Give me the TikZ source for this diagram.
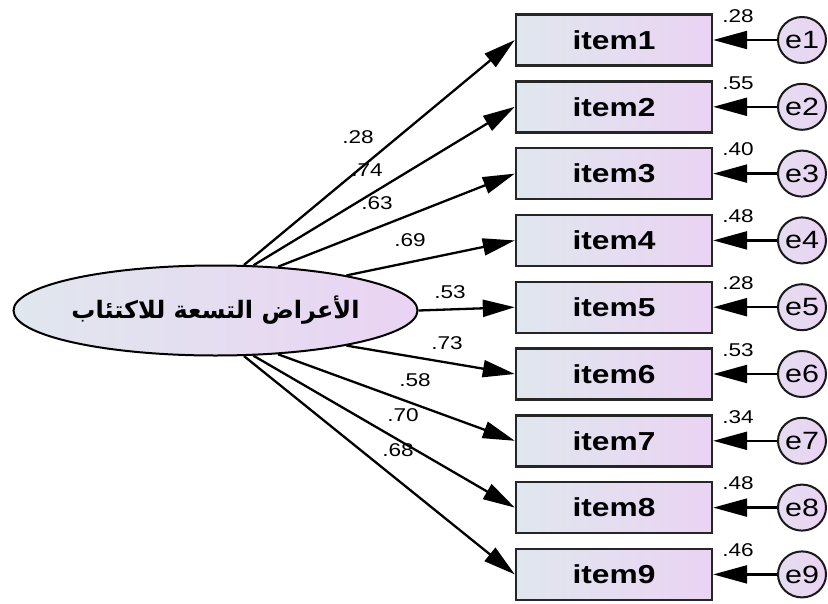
\documentclass[tikz,border=0pt]{standalone}
\usepackage{fontspec}
\setmainfont{Liberation Sans}
\newfontfamily\arabicfont[Script=Arabic]{DejaVu Sans}
\TeXXeTstate=1
\usetikzlibrary{arrows.meta,shapes.geometric}
\definecolor{gl}{RGB}{224,231,238}
\definecolor{gr}{RGB}{234,211,243}
\newcommand{\sx}[1]{\scalebox{1.22}[1]{#1}}
\begin{document}
\begin{tikzpicture}[x=1pt,y=-1pt,
  obs/.style={draw=black!85, line width=2.4pt, left color=gl, right color=gr, minimum width=196pt, minimum height=51pt, inner sep=0, font=\fontsize{26}{26}\selectfont\bfseries},
  err/.style={ellipse, draw=black!90, line width=2pt, left color=gl!50!gr, right color=gr, minimum width=48pt, minimum height=46pt, inner sep=0, font=\fontsize{25}{25}\selectfont},
  lat/.style={ellipse, draw, line width=2pt, left color=gl, right color=gr, minimum width=404pt, minimum height=90pt, inner sep=0},
  path/.style={line width=2.3pt, -{Triangle[length=32pt,width=17pt]}},
  res/.style={line width=2.3pt, -{Triangle[length=34pt,width=18pt]}},
  coef/.style={inner sep=0, font=\fontsize{18.5}{18.5}\selectfont},
]
\useasboundingbox (0,0) rectangle (828,603);
\node[lat] (F) at (215.5,310.5) {\makebox[0pt]{\arabicfont\fontsize{24}{24}\selectfont\bfseries\beginR الأعراض التسعة للاكتئاب\endR}};
\foreach \k/\r in {1/.28,2/.55,3/.40,4/.48,5/.28,6/.53,7/.34,8/.48,9/.46}{
  \pgfmathsetmacro{\yy}{40+66.8*(\k-1)}
  \node[obs] (i\k) at (614,\yy) {\sx{item\k}};
  \node[err] (e\k) at (802,\yy) {\sx{e\k}};
  \draw[res] (e\k) -- (i\k.east);
  \node[coef] (r\k) at (738,\yy-24) {\sx{\r}};
}
\draw[path] (F.58.9) -- (i1.west);
\draw[path] (F.50.2) -- (i2.west);
\draw[path] (F.35.3) -- (i3.west);
\draw[path] (F.15.6) -- (i4.west);
\draw[path] (F.east) -- (i5.west);
\draw[path] (F.-15.6) -- (i6.west);
\draw[path] (F.-35.3) -- (i7.west);
\draw[path] (F.-50.2) -- (i8.west);
\draw[path] (F.-58.9) -- (i9.west);
\node[coef] (c1) at (358,137) {\sx{.28}};
\node[coef] (c2) at (367,170) {\sx{.74}};
\node[coef] (c3) at (377,203) {\sx{.63}};
\node[coef] (c4) at (410,240) {\sx{.69}};
\node[coef] (c5) at (450,292) {\sx{.53}};
\node[coef] (c6) at (447,343) {\sx{.73}};
\node[coef] (c7) at (415,380) {\sx{.58}};
\node[coef] (c8) at (403,415) {\sx{.70}};
\node[coef] (c9) at (398,450) {\sx{.68}};
\end{tikzpicture}
\end{document}
